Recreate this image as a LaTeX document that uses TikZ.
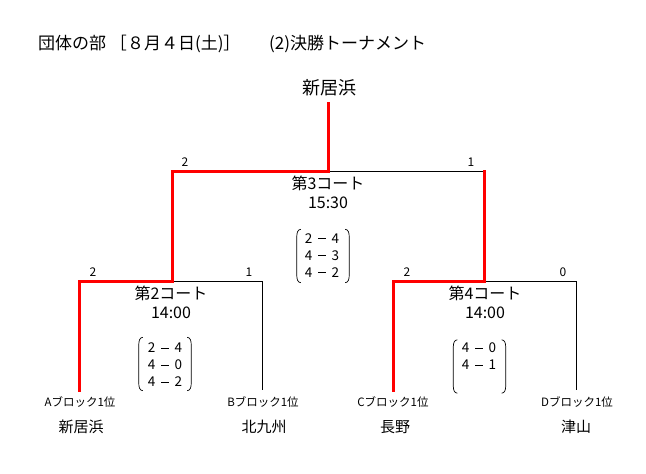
\documentclass[tikz,border=0pt]{standalone}
\usepackage{fontspec}
\setmainfont{Noto Sans CJK JP}
\newcommand\dsh{\hspace{0.42em}\rule[0.3em]{0.58em}{0.075em}\hspace{0.42em}}
\newcommand\parens[1]{%
  \draw[paren] ([xshift=4pt]#1.north west) to[out=180,in=90] ([yshift=-7pt]#1.north west)
     -- ([yshift=7pt]#1.south west) to[out=-90,in=180] ([xshift=4pt]#1.south west);
  \draw[paren] ([xshift=-4pt]#1.north east) to[out=0,in=90] ([yshift=-7pt]#1.north east)
     -- ([yshift=7pt]#1.south east) to[out=-90,in=0] ([xshift=-4pt]#1.south east);}
\tikzset{
  win/.style={draw=red, line width=3pt, line join=miter, line cap=rect},
  lose/.style={draw=black, line width=0.9pt},
  paren/.style={draw=black, line width=0.7pt},
  titletext/.style={font=\fontsize{17}{19}\selectfont, inner sep=0, anchor=west},
  bigname/.style={font=\fontsize{18}{20}\selectfont, inner sep=0},
  courttext/.style={font=\fontsize{16}{18}\selectfont, inner sep=0, align=center},
  pts/.style={font=\fontsize{12}{13}\selectfont, inner sep=0},
  blocklab/.style={font=\fontsize{11.5}{13}\selectfont, inner sep=0},
  teamname/.style={font=\fontsize{15}{16}\selectfont, inner sep=0},
  scorebox/.style={minimum width=52pt, minimum height=53pt, inner sep=0},
  scoretext/.style={font=\fontsize{13.5}{17}\selectfont, inner sep=0},
}
\begin{document}
\begin{tikzpicture}[x=1pt,y=-1pt]
\useasboundingbox (0,0) rectangle (646,474);
% title
\node[titletext] (t1) at (38,44) {団体の部 ［８月４日(土)］};
\node[titletext] (t2) at (269,44) {(2)決勝トーナメント};
% champion
\node[bigname] (champ) at (329,88) {新居浜};
% bracket coordinates
\coordinate (ftop) at (328,103);
\coordinate (fm) at (328,171);
\coordinate (fl) at (172,171);
\coordinate (fr) at (484,171);
\coordinate (sl) at (172,281);
\coordinate (sr) at (484,281);
\coordinate (aT) at (79,281);  \coordinate (aB) at (79,390);
\coordinate (bT) at (262,281); \coordinate (bB) at (262,390);
\coordinate (cT) at (393,281); \coordinate (cB) at (393,390);
\coordinate (dT) at (576,281); \coordinate (dB) at (576,390);
% losing lines
\draw[lose] (fm) -- (fr);
\draw[lose] (sl) -- (bT) -- (bB);
\draw[lose] (sr) -- (dT) -- (dB);
% winning lines
\draw[win] (ftop) -- (fm) -- (fl) -- (sl) -- (aT) -- (aB);
\draw[win] (fr) -- (sr) -- (cT) -- (cB);
% points
\node[pts] (p3l) at (185,162) {2};
\node[pts] (p3r) at (471,162) {1};
\node[pts] (p2l) at (93,272) {2};
\node[pts] (p2r) at (249,272) {1};
\node[pts] (p4l) at (407,272) {2};
\node[pts] (p4r) at (563,272) {0};
% courts
\node[courttext] (c3) at (328,183) {第3コート};
\node[courttext] (c3t) at (328,203) {15:30};
\node[courttext] (c2) at (171,293) {第2コート};
\node[courttext] (c2t) at (171,313) {14:00};
\node[courttext] (c4) at (485,293) {第4コート};
\node[courttext] (c4t) at (485,313) {14:00};
% scores
\node[scorebox] (s3) at (323,256) {};
\node[scoretext] (s3t) at (322,257) {\begin{tabular}{@{}c@{}}2\dsh4\\4\dsh3\\4\dsh2\end{tabular}};
\parens{s3}
\node[scorebox] (s2) at (165,364) {};
\node[scoretext] (s2t) at (165,366.5) {\begin{tabular}{@{}c@{}}2\dsh4\\4\dsh0\\4\dsh2\end{tabular}};
\parens{s2}
\node[scorebox] (s4) at (479.5,366.5) {};
\node[scoretext] (s4t) at (479,366.5) {\begin{tabular}{@{}c@{}}4\dsh0\\4\dsh1\\\mbox{}\end{tabular}};
\parens{s4}
% teams
\node[blocklab] (la) at (80,402) {Aブロック1位};
\node[blocklab] (lb) at (263,402) {Bブロック1位};
\node[blocklab] (lc) at (393,402) {Cブロック1位};
\node[blocklab] (ld) at (577,402) {Dブロック1位};
\node[teamname] (na) at (81,427) {新居浜};
\node[teamname] (nb) at (264,427) {北九州};
\node[teamname] (nc) at (395,427) {長野};
\node[teamname] (nd) at (576,427) {津山};
\end{tikzpicture}
\end{document}
